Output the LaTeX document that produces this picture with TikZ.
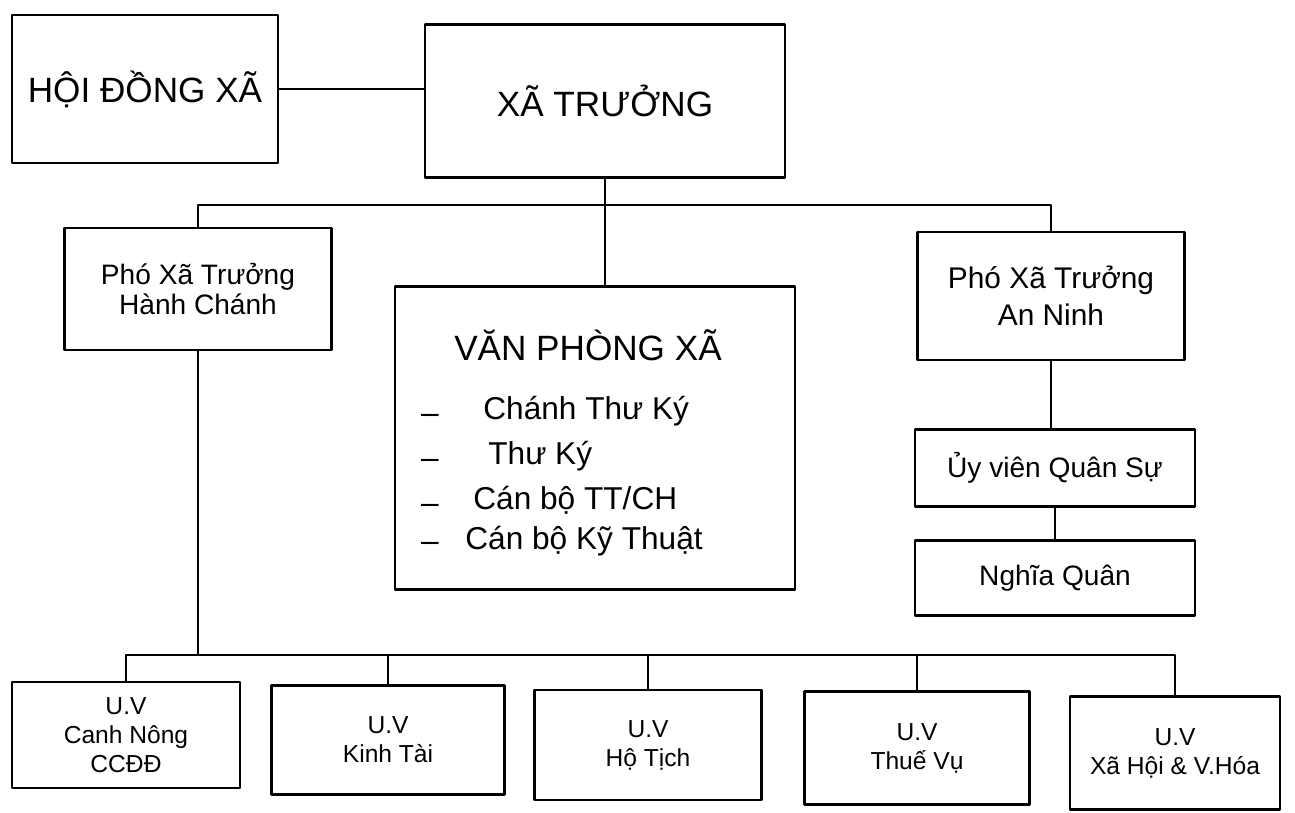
\documentclass[tikz,border=0pt]{standalone}
\usepackage{fontspec}
\setmainfont{Liberation Sans}
\usetikzlibrary{calc}

\tikzset{
  unit/.style={draw=black,line width=1.4pt,inner sep=0pt,align=center},
  boxsize/.style 2 args={minimum width=#1*0.02cm,minimum height=#2*0.02cm},
  bigtxt/.style={font=\fontsize{20}{24}\selectfont},
  midtxt/.style={font=\fontsize{16}{17}\selectfont},
  itemtxt/.style={font=\fontsize{18}{20}\selectfont,inner sep=0pt},
  smalltxt/.style={font=\fontsize{14}{16.5}\selectfont},
  link/.style={line width=1.2pt},
}

\begin{document}
\begin{tikzpicture}[x=0.02cm,y=-0.02cm,line cap=round,line join=round]
  \useasboundingbox (0,0) rectangle (1295,813);

  % Top level.
  \node[unit,bigtxt,boxsize={266}{148}] (hdx) at (145,89) {HỘI ĐỒNG XÃ};
  \node[unit,bigtxt,boxsize={360}{153}] (xt) at (605,101) {XÃ TRƯỞNG};
  \draw[link] (hdx.east) -- (hdx.east -| xt.west);

  % Second level.
  \node[unit,midtxt,boxsize={267}{122}] (hc) at (198,289)
    {Phó Xã Trưởng\\Hành Chánh};
  \node[unit,boxsize={400}{303}] (vp) at (595,438) {};
  \node[unit,font=\fontsize{17}{21}\selectfont,boxsize={267}{128}] (an) at (1051,296)
    {Phó Xã Trưởng\\An Ninh};
  \coordinate (topbar) at (0,205);
  \draw[link] (hc.north) -- (hc.north |- topbar) -- (an.north |- topbar) -- (an.north);
  \draw[link] (xt.south) -- (xt.south |- vp.north);

  % Văn phòng contents.
  \node[bigtxt,inner sep=0pt] (vptitle) at (588,345) {VĂN PHÒNG XÃ};
  \node[itemtxt,anchor=base west] (vp1) at (483,420) {Chánh Thư Ký};
  \node[itemtxt,anchor=base west] (vp2) at (488,465) {Thư Ký};
  \node[itemtxt,anchor=base west] (vp3) at (473,510) {Cán bộ TT/CH};
  \node[itemtxt,anchor=base west] (vp4) at (465,550) {Cán bộ Kỹ Thuật};
  \foreach \i/\yy in {1/424,2/469,3/514,4/552}
    \node[itemtxt,anchor=base] (dash\i) at (430,\yy) {–};

  % An ninh branch.
  \node[unit,midtxt,boxsize={280}{77}] (qs) at (1055,468) {Ủy viên Quân Sự};
  \node[unit,midtxt,boxsize={280}{75}] (nq) at (1055,578) {Nghĩa Quân};
  \draw[link] (an.south) -- (an.south |- qs.north);
  \draw[link] (qs.south) -- (nq.north);

  % Ủy viên row.
  \node[unit,smalltxt,boxsize={228}{106}] (uv1) at (126,735) {U.V\\Canh Nông\\CCĐĐ};
  \node[unit,smalltxt,boxsize={233}{109}] (uv2) at (388,740) {U.V\\Kinh Tài};
  \node[unit,smalltxt,boxsize={227}{110}] (uv3) at (648,745) {U.V\\Hộ Tịch};
  \node[unit,smalltxt,boxsize={225}{113}] (uv4) at (917,748) {U.V\\Thuế Vụ};
  \node[unit,smalltxt,boxsize={210}{113}] (uv5) at (1175,753) {U.V\\Xã Hội \& V.Hóa};
  \coordinate (lowbar) at (0,655);
  \draw[link] (hc.south) -- (hc.south |- lowbar);
  \draw[link] (uv1.north) -- (uv1.north |- lowbar) -- (uv5.north |- lowbar) -- (uv5.north);
  \foreach \i in {2,3,4}
    \draw[link] (uv\i.north) -- (uv\i.north |- lowbar);
\end{tikzpicture}
\end{document}
